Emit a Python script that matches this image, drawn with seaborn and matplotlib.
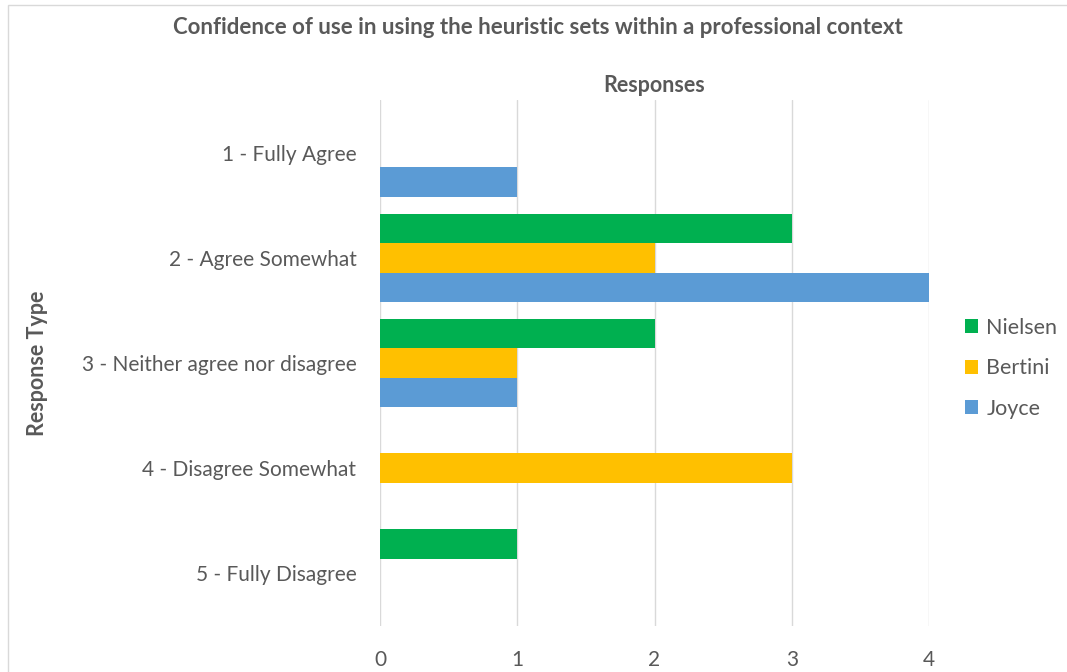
import matplotlib
matplotlib.use("Agg")
import matplotlib.pyplot as plt
from matplotlib.patches import Rectangle
import seaborn as sns
import pandas as pd

categories = ["1 - Fully Agree", "2 - Agree Somewhat", "3 - Neither agree nor disagree",
              "4 - Disagree Somewhat", "5 - Fully Disagree"]
series = ["Nielsen", "Bertini", "Joyce"]
nielsen = [0, 3, 2, 0, 1]
bertini = [0, 2, 1, 3, 0]
joyce = [1, 4, 1, 0, 0]
colors = ["#00B050", "#FFC000", "#5B9BD5"]
x_ticks = [0, 1, 2, 3, 4]

rows = []
for name, vals in zip(series, [nielsen, bertini, joyce]):
    for cat, v in zip(categories, vals):
        rows.append({"Response Type": cat, "Responses": v, "Series": name})
df = pd.DataFrame(rows)

sns.set_theme(style="white")
plt.rcParams["font.family"] = ["Lato", "DejaVu Sans"]
text_color = "#595959"

fig = plt.figure(figsize=(10.67, 6.72), dpi=100)
ax = fig.add_axes([380 / 1067, 46 / 672, 549 / 1067, 526 / 672])

sns.barplot(data=df, y="Response Type", x="Responses", hue="Series",
            order=categories, hue_order=series, palette=colors,
            orient="h", width=0.84, saturation=1, linewidth=0, ax=ax, legend=True)

ax.set_xlim(0, 4)
ax.set_xticks(x_ticks)
ax.xaxis.grid(True, color="#D9D9D9", linewidth=1)
ax.set_axisbelow(True)
for s in ax.spines.values():
    s.set_visible(False)
ax.tick_params(axis="both", length=0, colors=text_color, labelsize=15)
ax.tick_params(axis="x", pad=17)
ax.tick_params(axis="y", pad=17)

ax.xaxis.set_label_position("top")
ax.set_xlabel("Responses", fontsize=15.5, fontweight="bold", color=text_color, labelpad=6)
ax.set_ylabel("Response Type", fontsize=15.5, fontweight="bold", color=text_color)
ax.yaxis.set_label_coords(-0.605, 0.5)

handles, labels = ax.get_legend_handles_labels()
ax.legend(handles, labels, loc="center left", bbox_to_anchor=(1.03, 0.49),
          frameon=False, fontsize=15.5, labelcolor=text_color,
          handlelength=0.6, handleheight=0.6, handletextpad=0.4, labelspacing=0.95)

fig.text(538 / 1067, 1 - 27 / 672,
         "Confidence of use in using the heuristic sets within a professional context",
         ha="center", va="center", fontsize=16, fontweight="bold", color=text_color)

fig.patches.append(Rectangle((8 / 1067, -0.05), 1.1, 1 - 5 / 672 + 0.05,
                             transform=fig.transFigure, fill=False,
                             edgecolor="#D9D9D9", linewidth=1))

fig.savefig("out.png", dpi=100)
